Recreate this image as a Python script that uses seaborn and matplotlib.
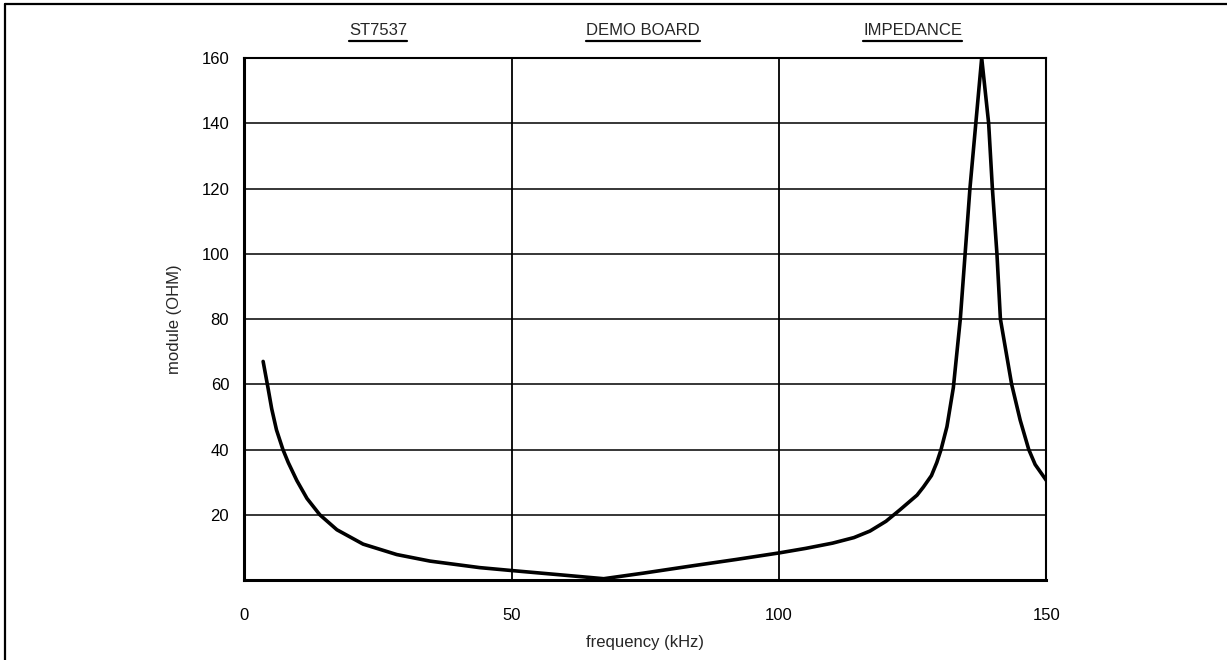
import matplotlib
matplotlib.use("Agg")
import matplotlib.pyplot as plt
from matplotlib.lines import Line2D
import seaborn as sns
import pandas as pd

# Impedance magnitude of the ST7537 demo board versus frequency
freq_khz = [3.5, 4.4, 5.1, 6.0, 7.2, 8.2, 9.8, 11.7, 14.1, 17.3, 22.2, 28.5,
            34.7, 44, 50, 59, 67.2, 74.6, 84, 92, 100, 105, 110, 114, 117,
            120, 122.6, 125.8, 127, 128.5, 129.5, 130.3, 131.4, 132.6, 133.9,
            134.8, 135.7, 136.8, 137.9, 139.2, 139.9, 140.75, 141.4, 143.5,
            145.1, 146.7, 147.9, 150]
module_ohm = [67, 59, 52.5, 46, 40, 36, 30.5, 25, 20, 15.4, 11, 7.8,
              5.8, 3.8, 2.9, 1.6, 0.4, 2.1, 4.4, 6.3, 8.3, 9.7, 11.3, 13, 15,
              18, 21.5, 26, 28.5, 32, 36, 40, 47, 59, 80,
              100, 120, 140, 160, 140, 120, 100, 80, 60,
              49, 40, 35.4, 30.5]

x_ticks = [0, 50, 100, 150]
y_ticks = [20, 40, 60, 80, 100, 120, 140, 160]
header_words = ["ST7537", "DEMO BOARD", "IMPEDANCE"]
header_pos = [25, 74.5, 125]

sns.set_style("white")
plt.rcParams["font.family"] = ["Liberation Sans", "DejaVu Sans"]

df = pd.DataFrame({"freq": freq_khz, "module": module_ohm})

fig = plt.figure(figsize=(12.27, 6.6), dpi=100)
ax = fig.add_axes([0.1992, 0.1212, 0.6536, 0.7909])

sns.lineplot(data=df, x="freq", y="module", ax=ax, color="black",
             linewidth=2.6, zorder=3)

ax.set_xlim(0, 150)
ax.set_ylim(0, 160)
ax.set_xticks(x_ticks)
ax.set_xticklabels([str(t) for t in x_ticks])
ax.set_yticks(y_ticks)
ax.set_yticklabels([str(t) for t in y_ticks])
ax.tick_params(axis="x", length=0, pad=20, labelsize=12, colors="black")
ax.tick_params(axis="y", length=0, pad=11, labelsize=12, colors="black")

# grid: horizontal every 20 ohm, vertical at 50 and 100 kHz
for y in y_ticks[:-1]:
    ax.axhline(y, color="black", linewidth=1.1, zorder=1)
for x in x_ticks[1:-1]:
    ax.axvline(x, color="black", linewidth=1.3, zorder=1)

for s in ax.spines.values():
    s.set_visible(True)
    s.set_color("black")
    s.set_linewidth(1.5)
ax.spines["left"].set_linewidth(2.2)
ax.spines["bottom"].set_linewidth(2.2)

ax.set_xlabel("frequency (kHz)", fontsize=12, labelpad=9)
ax.set_ylabel("module (OHM)", fontsize=12, labelpad=14)

# underlined header words above the plot
texts = []
for word, xp in zip(header_words, header_pos):
    t = ax.text(xp, 1.045, word, transform=ax.get_xaxis_transform(),
                ha="center", va="baseline", fontsize=12)
    texts.append(t)

fig.canvas.draw()
renderer = fig.canvas.get_renderer()
inv = fig.transFigure.inverted()
for t in texts:
    bb = t.get_window_extent(renderer)
    (x0, y0), (x1, _) = inv.transform([(bb.x0, bb.y0), (bb.x1, bb.y1)])
    yline = y0 - 3.5 / fig.bbox.height
    fig.add_artist(Line2D([x0, x1], [yline, yline], transform=fig.transFigure,
                          color="black", linewidth=1.6))

# page frame (top and left edges)
fig.add_artist(Line2D([5 / 1227, 1], [1 - 4 / 660, 1 - 4 / 660],
                      transform=fig.transFigure, color="black", linewidth=1.6))
fig.add_artist(Line2D([5 / 1227, 5 / 1227], [0, 1 - 4 / 660],
                      transform=fig.transFigure, color="black", linewidth=1.6))

fig.savefig("out.png", dpi=100)
